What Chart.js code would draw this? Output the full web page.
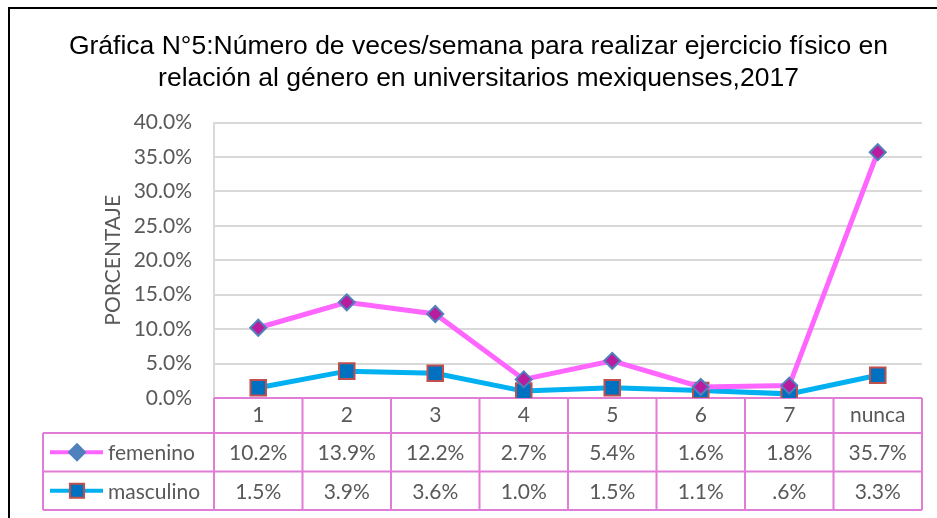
<!DOCTYPE html>
<html lang="es">
<head>
    <meta charset="UTF-8">
    <title>Gráfica N°5</title>
    <script src="https://cdn.jsdelivr.net/npm/chart.js"></script>
    <style>
        body { margin: 0; background: #ffffff; }
        canvas { display: block; }
    </style>
</head>
<body>
    <canvas id="grafica" width="937" height="518"></canvas>
    <script>
        // Datos
        const categorias = ['1', '2', '3', '4', '5', '6', '7', 'nunca'];
        const femenino = [10.2, 13.9, 12.2, 2.7, 5.4, 1.6, 1.8, 35.7];
        const masculino = [1.5, 3.9, 3.6, 1.0, 1.5, 1.1, 0.6, 3.3];
        const ticksY = [0, 5, 10, 15, 20, 25, 30, 35, 40];

        const grisTexto = '#595959';
        const bordeTabla = '#E27DD7';
        const fuente = 'Lato';

        function formato(v) {
            return (v.toFixed(1) + '%').replace(/^0\./, '.');
        }

        // Tabla de datos debajo de la gráfica + marco
        const tablaDatos = {
            id: 'tablaDatos',
            beforeDraw(chart) {
                const ctx = chart.ctx;
                ctx.save();
                ctx.strokeStyle = '#000000';
                ctx.lineWidth = 2;
                ctx.beginPath();
                ctx.moveTo(9, 518);
                ctx.lineTo(9, 8);
                ctx.lineTo(937, 8);
                ctx.stroke();
                ctx.restore();
            },
            beforeDatasetsDraw(chart) {
                const ctx = chart.ctx;
                const x = chart.scales.x;
                const area = chart.chartArea;
                const ancho = (area.right - area.left) / categorias.length;
                const y0 = area.bottom;
                const y1 = y0 + 35;
                const filas = [
                    { nombre: 'femenino', datos: femenino, ds: chart.data.datasets[0], marca: 'rectRot', relleno: '#4F81BD', borde: '#4F81BD' },
                    { nombre: 'masculino', datos: masculino, ds: chart.data.datasets[1], marca: 'rect', relleno: '#0070C0', borde: '#C0504D' }
                ];
                const altoFila = 38.5;
                const izq = 43;

                ctx.save();
                ctx.strokeStyle = bordeTabla;
                ctx.lineWidth = 2;
                ctx.beginPath();
                // fila de categorías
                ctx.moveTo(area.left, y0);
                ctx.lineTo(area.right, y0);
                for (let i = 0; i <= categorias.length; i++) {
                    const cx = x.getPixelForValue(i) - ancho / 2;
                    ctx.moveTo(cx, y0);
                    ctx.lineTo(cx, y1 + altoFila * filas.length);
                }
                ctx.moveTo(izq, y1);
                ctx.lineTo(area.right, y1);
                for (let f = 1; f <= filas.length; f++) {
                    ctx.moveTo(izq, y1 + altoFila * f);
                    ctx.lineTo(area.right, y1 + altoFila * f);
                }
                ctx.moveTo(izq, y1);
                ctx.lineTo(izq, y1 + altoFila * filas.length);
                ctx.stroke();

                ctx.font = '21px ' + fuente;
                ctx.fillStyle = grisTexto;
                ctx.textBaseline = 'middle';
                filas.forEach(function (fila, f) {
                    const cy = y1 + altoFila * f + altoFila / 2;
                    // leyenda
                    ctx.strokeStyle = fila.ds.borderColor;
                    ctx.lineWidth = 4;
                    ctx.beginPath();
                    ctx.moveTo(50, cy);
                    ctx.lineTo(103, cy);
                    ctx.stroke();
                    ctx.fillStyle = fila.relleno;
                    ctx.strokeStyle = fila.borde;
                    ctx.lineWidth = 2;
                    Chart.helpers.drawPoint(ctx, { pointStyle: fila.marca, radius: fila.marca === 'rect' ? 10 : 8, borderWidth: 2 }, 77, cy);
                    ctx.fillStyle = grisTexto;
                    ctx.textAlign = 'left';
                    ctx.fillText(fila.nombre, 108, cy + 1);
                    ctx.textAlign = 'center';
                    fila.datos.forEach(function (v, i) {
                        ctx.fillText(formato(v), x.getPixelForValue(i), cy + 1);
                    });
                });
                ctx.restore();
            }
        };

        const ctx = document.getElementById('grafica').getContext('2d');
        new Chart(ctx, {
            type: 'line',
            data: {
                labels: categorias,
                datasets: [{
                    label: 'femenino',
                    data: femenino,
                    borderColor: '#FF66FF',
                    borderWidth: 5,
                    pointStyle: 'rectRot',
                    pointRadius: 8,
                    pointBackgroundColor: '#BA1C9E',
                    pointBorderColor: '#4F81BD',
                    pointBorderWidth: 2,
                    tension: 0
                }, {
                    label: 'masculino',
                    data: masculino,
                    borderColor: '#00B0F0',
                    borderWidth: 5,
                    pointStyle: 'rect',
                    pointRadius: 11,
                    pointBackgroundColor: '#0070C0',
                    pointBorderColor: '#C0504D',
                    pointBorderWidth: 2,
                    tension: 0
                }]
            },
            options: {
                responsive: false,
                animation: false,
                layout: {
                    padding: { left: 35, right: 15, top: 0, bottom: 85 }
                },
                plugins: {
                    legend: { display: false },
                    tooltip: { enabled: false },
                    title: {
                        display: true,
                        text: [
                            'Gráfica N°5:Número de veces/semana para realizar ejercicio físico en',
                            'relación al género en universitarios mexiquenses,2017'
                        ],
                        color: '#000000',
                        font: { family: 'Liberation Sans', size: 26.5, weight: 'normal', lineHeight: 1.2 },
                        padding: { top: 31, bottom: 28 }
                    }
                },
                scales: {
                    x: {
                        offset: true,
                        grid: { display: false, drawTicks: false },
                        border: { display: false },
                        ticks: {
                            color: grisTexto,
                            font: { family: fuente, size: 21 },
                            padding: 5,
                            maxRotation: 0
                        },
                        afterFit(scale) { scale.height = 35; }
                    },
                    y: {
                        min: 0,
                        max: 40,
                        afterBuildTicks(scale) {
                            scale.ticks = ticksY.map(function (v) { return { value: v }; });
                        },
                        afterFit(scale) { scale.width = 179; },
                        grid: { color: '#D9D9D9', lineWidth: 2, drawTicks: false },
                        border: { display: true, color: '#D9D9D9', width: 2 },
                        ticks: {
                            color: grisTexto,
                            font: { family: fuente, size: 21 },
                            padding: 22,
                            callback: function (v) { return v.toFixed(1) + '%'; }
                        },
                        title: {
                            display: true,
                            text: 'PORCENTAJE',
                            color: grisTexto,
                            font: { family: fuente, size: 21 },
                            padding: { top: 66 }
                        }
                    }
                }
            },
            plugins: [tablaDatos]
        });
    </script>
</body>
</html>
